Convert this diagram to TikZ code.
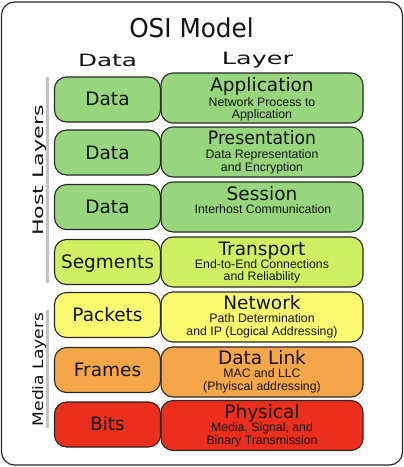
\documentclass[tikz,border=0pt]{standalone}
\usepackage{fontspec}
\setmainfont{DejaVu Sans}
\newfontfamily\subfont{Liberation Sans}
\usepackage{graphicx}
\definecolor{cgreen}{RGB}{152,214,126}
\definecolor{clime}{RGB}{208,240,100}
\definecolor{cyellow}{RGB}{250,250,112}
\definecolor{corange}{RGB}{245,166,72}
\definecolor{cred}{RGB}{236,46,28}
\definecolor{edge}{RGB}{40,40,40}
\definecolor{txt}{RGB}{20,20,20}
\definecolor{bar}{RGB}{195,195,195}
\begin{document}
\begin{tikzpicture}[x=1pt,y=-1pt,
  rbox/.style={draw=edge, line width=1.1pt, rounded corners=12pt, inner sep=0pt, minimum width=202pt, minimum height=50pt},
  lbox/.style={draw=edge, line width=1.1pt, rounded corners=12pt, inner sep=0pt, minimum width=106pt, minimum height=45pt},
  lbl/.style={font=\fontsize{18.5}{20}\selectfont, text=txt, inner sep=0pt, anchor=base},
  ttl/.style={lbl, text depth=0.5pt},
  sub/.style={font=\subfont\fontsize{12.3}{13}\selectfont, text=txt, inner sep=0pt, anchor=base, text height=8.8pt},
  hdr/.style={font=\fontsize{17}{19}\selectfont, text=txt, inner sep=0pt, anchor=base},
  side/.style={font=\fontsize{14.5}{16}\selectfont, text=txt, inner sep=0pt, anchor=base, rotate=90},
  barline/.style={draw=bar, line width=3pt}]
\useasboundingbox (0,0) rectangle (404,467);
\node[draw=edge, line width=1.2pt, rounded corners=13pt, minimum width=401pt, minimum height=463pt, inner sep=0pt] (frame) at (202,233.5) {};
% title and headers
\node[inner sep=0pt, anchor=base, text=txt, font=\fontsize{26}{28}\selectfont] (title) at (191.5,37) {\scalebox{0.95}[1]{OSI Model}};
\node[hdr] (hdata) at (107.5,66) {\scalebox{1.45}[1]{Data}};
\node[hdr] (hlayer) at (257.5,64) {\scalebox{1.5}[1]{Layer}};
% side bars
\coordinate (h1) at (47,77);
\coordinate (h2) at (47,283);
\coordinate (m1) at (47,310);
\coordinate (m2) at (47,428);
\draw[barline] (h1) -- (h2);
\draw[barline] (m1) -- (m2);
\node[side] (host) at (43,170.5) {\scalebox{1.53}[1]{Host Layers}};
\node[side] (media) at (43,369.5) {\scalebox{1.18}[1]{Media Layers}};
% row 1
\node[rbox, fill=cgreen] (r1) at (262,98) {};
\node[lbox, fill=cgreen] (l1) at (107.5,99.5) {};
\node[lbl] (d1) at (107.5,105) {Data};
\node[ttl] (t1) at (262,91.5) {Application};
\node[sub] (s1a) at (262,106) {Network Process to};
\node[sub] (s1b) at (262,118.5) {Application};
% row 2
\node[rbox, fill=cgreen] (r2) at (262,152) {};
\node[lbox, fill=cgreen] (l2) at (107.5,152.5) {};
\node[lbl] (d2) at (107.5,159) {Data};
\node[ttl] (t2) at (262,144.3) {\scalebox{0.93}[1]{Presentation}};
\node[sub] (s2a) at (262,158.6) {Data Representation};
\node[sub] (s2b) at (262,171) {and Encryption};
% row 3
\node[rbox, fill=cgreen] (r3) at (262,207) {};
\node[lbox, fill=cgreen] (l3) at (107.5,207) {};
\node[lbl] (d3) at (107.5,213) {Data};
\node[ttl] (t3) at (262,200.5) {Session};
\node[sub] (s3a) at (263,213.5) {Interhost Communication};
% row 4
\node[rbox, fill=clime] (r4) at (262,262) {};
\node[lbox, fill=clime] (l4) at (107.5,262) {};
\node[lbl] (d4) at (107.5,268.3) {Segments};
\node[ttl] (t4) at (262,255.3) {Transport};
\node[sub] (s4a) at (262,268) {End-to-End Connections};
\node[sub] (s4b) at (262,280.4) {and Reliability};
% row 5
\node[rbox, fill=cyellow] (r5) at (262,317) {};
\node[lbox, fill=cyellow] (l5) at (107.5,315) {};
\node[lbl] (d5) at (107.5,321) {Packets};
\node[ttl, text depth=0pt] (t5) at (262,309.6) {Network};
\node[sub] (s5a) at (262,322.6) {Path Determination};
\node[sub] (s5b) at (262,335) {and IP (Logical Addressing)};
% row 6
\node[rbox, fill=corange] (r6) at (262,372) {};
\node[lbox, fill=corange] (l6) at (107.5,370) {};
\node[lbl] (d6) at (107.5,376) {Frames};
\node[ttl] (t6) at (262,364.5) {Data Link};
\node[sub] (s6a) at (262,377.5) {MAC and LLC};
\node[sub] (s6b) at (262,390) {(Phyiscal addressing)};
% row 7
\node[rbox, fill=cred] (r7) at (262,425.5) {};
\node[lbox, fill=cred] (l7) at (107.5,424.5) {};
\node[lbl] (d7) at (107.5,430) {Bits};
\node[ttl] (t7) at (262,418.3) {Physical};
\node[sub] (s7a) at (262,431.2) {Media, Signal, and};
\node[sub] (s7b) at (262,444) {Binary Transmission};
\end{tikzpicture}
\end{document}
